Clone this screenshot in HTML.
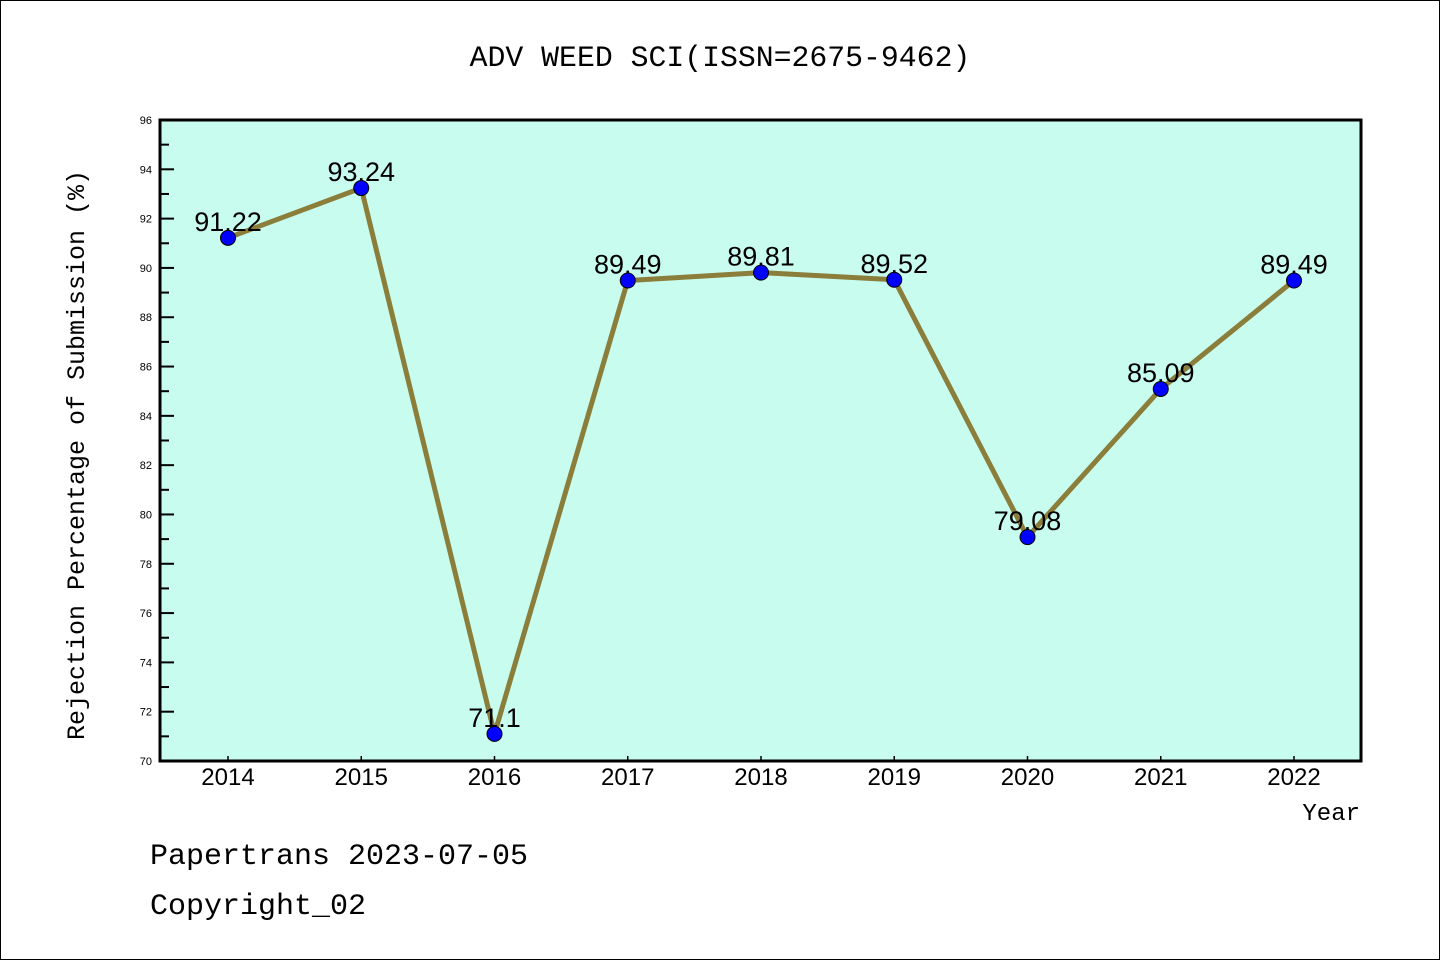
<!DOCTYPE html>
<html><head><meta charset="utf-8"><style>
body{margin:0;background:#fff;}
svg{display:block}
</style></head><body>
<svg id="c" width="1440" height="960" xmlns="http://www.w3.org/2000/svg">
<rect x="0.5" y="0.5" width="1439" height="959" fill="#fff" stroke="#000"/>
<text x="720" y="66" text-anchor="middle" font-family="Liberation Mono, monospace" font-size="29.8">ADV WEED SCI(ISSN=2675-9462)</text>
<rect x="160" y="120" width="1201" height="641" fill="#c8fcee" stroke="#000" stroke-width="3"/>
<g id="axes"></g>
<g id="series"></g>
<text x="1360" y="820" text-anchor="end" font-family="Liberation Mono, monospace" font-size="24">Year</text>
<text transform="translate(84,455) rotate(-90)" text-anchor="middle" font-family="Liberation Mono, monospace" font-size="25">Rejection Percentage of Submission (%)</text>
<text x="150" y="864" font-family="Liberation Mono, monospace" font-size="30">Papertrans 2023-07-05</text>
<text x="150" y="914" font-family="Liberation Mono, monospace" font-size="30">Copyright_02</text>
</svg>
<script>
const years=["2014","2015","2016","2017","2018","2019","2020","2021","2022"];
const values=[91.22,93.24,71.1,89.49,89.81,89.52,79.08,85.09,89.49];
const valueLabels=["91.22","93.24","71.1","89.49","89.81","89.52","79.08","85.09","89.49"];
const yTicks=[70,72,74,76,78,80,82,84,86,88,90,92,94,96];
const NS="http://www.w3.org/2000/svg";
const yMin=70,yMax=96,plotTop=120,plotBot=761;
function yS(v){return plotBot-(v-yMin)/(yMax-yMin)*(plotBot-plotTop);}
function xS(i){return 228+i*133.25;}
function mk(t,a,p){const e=document.createElementNS(NS,t);for(const k in a)e.setAttribute(k,a[k]);p.appendChild(e);return e;}
const ax=document.getElementById('axes'),sr=document.getElementById('series');
yTicks.forEach((v,i)=>{
 const y=yS(v);
 const t=mk('line',{x1:160,x2:174,y1:y,y2:y,stroke:'#000','stroke-width':2},ax);
 
 
 const l=mk('text',{x:152,y:y+4,'text-anchor':'end','font-family':'Liberation Sans, sans-serif','font-size':11},ax);
 l.textContent=v;
 
 
 if(i<yTicks.length-1){
  const m=yS(v+1);
  const mt=mk('line',{x1:160,x2:169,y1:m,y2:m,stroke:'#000','stroke-width':2},ax);
  
  
 }
});
years.forEach((yr,i)=>{
 const x=xS(i);
 const t=mk('line',{x1:x,x2:x,y1:plotBot,y2:plotBot-5,stroke:'#000','stroke-width':1.5},ax);
 
 
 const l=mk('text',{x:x,y:785,'text-anchor':'middle','font-family':'Liberation Sans, sans-serif','font-size':24},ax);
 l.textContent=yr;
 
 
});
const pl=mk('polyline',{points:values.map((v,i)=>xS(i)+','+yS(v)).join(' '),fill:'none',stroke:'#8b7d3a','stroke-width':5,'stroke-linejoin':'round'},sr);


values.forEach((v,i)=>{
 const c=mk('circle',{cx:xS(i),cy:yS(v),r:7.5,fill:'#0000ff',stroke:'#000','stroke-width':1},sr);
 
 
 const l=mk('text',{x:xS(i),y:yS(v)-7,'text-anchor':'middle','font-family':'Liberation Sans, sans-serif','font-size':27},sr);
 l.textContent=valueLabels[i];
 
 
});
</script>
</body></html>
